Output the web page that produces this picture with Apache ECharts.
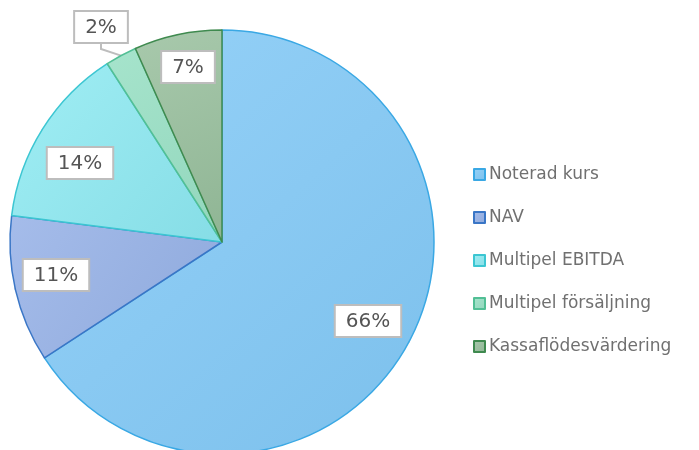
<!DOCTYPE html>
<html>
<head>
<meta charset="utf-8">
<script src="https://cdn.jsdelivr.net/npm/echarts@6/dist/echarts.min.js"></script>
<style>
  html, body { margin: 0; padding: 0; background: #fff; }
  #chart { width: 699px; height: 450px; }
</style>
</head>
<body>
<div id="chart"></div>
<script>
var chart = echarts.init(document.getElementById('chart'));

// data (share of total, %)
var categories = ['Noterad kurs', 'NAV', 'Multipel EBITDA', 'Multipel försäljning', 'Kassaflödesvärdering'];
var shares = [65.8, 11.2, 13.9, 2.4, 6.7];

// colours: fill top, fill bottom, border
var fillTop = ['#96d2f8', '#a5bcea', '#a0eef4', '#a6e4cc', '#a8c9ac'];
var fillBottom = ['#7cc0ec', '#8ea9dc', '#86dde6', '#92d6bc', '#8fb594'];
var borders = ['#3aa8e4', '#3a76c6', '#3cc6d2', '#52bf95', '#3f8a4f'];

// label box centres (callouts)
var labelPos = [[368, 321], [56, 275], [80, 163], [101, 27], [188, 67]];

var pieData = categories.map(function (name, i) {
    return {
        name: name,
        value: shares[i],
        itemStyle: {
            color: new echarts.graphic.LinearGradient(0, 0, 1, 1, [
                { offset: 0, color: fillTop[i] },
                { offset: 1, color: fillBottom[i] }
            ]),
            borderColor: borders[i],
            borderWidth: 1.5
        }
    };
});

var option = {
    animation: false,
    legend: {
        orient: 'vertical',
        left: 473,
        top: 166,
        padding: 0,
        itemWidth: 11,
        itemHeight: 11,
        itemGap: 26,
        icon: 'rect',
        data: categories,
        textStyle: {
            fontFamily: 'DejaVu Sans',
            fontSize: 17,
            color: '#707070',
            padding: [0, 0, 0, -1]
        }
    },
    series: [
        {
            name: 'Värdering',
            type: 'pie',
            center: [222, 242],
            radius: 212,
            startAngle: 90,
            clockwise: true,
            data: pieData,
            label: {
                position: 'outside',
                overflow: 'none',
                formatter: function (p) { return '{box|' + Math.round(p.value) + '%}'; },
                rich: {
                    box: {
                        fontFamily: 'DejaVu Sans',
                        fontSize: 20,
                        color: '#555',
                        backgroundColor: '#fff',
                        borderColor: '#bdbdbd',
                        borderWidth: 2,
                        padding: [6, 10, 4, 10]
                    }
                }
            },
            labelLine: {
                show: true,
                length: 5,
                length2: 5,
                lineStyle: { color: '#bdbdbd', width: 2 }
            },
            labelLayout: function (params) {
                var p = labelPos[params.dataIndex];
                return { x: p[0], y: p[1], align: 'center', verticalAlign: 'middle' };
            },
            emphasis: { disabled: true }
        }
    ]
};

chart.setOption(option);
</script>
</body>
</html>
